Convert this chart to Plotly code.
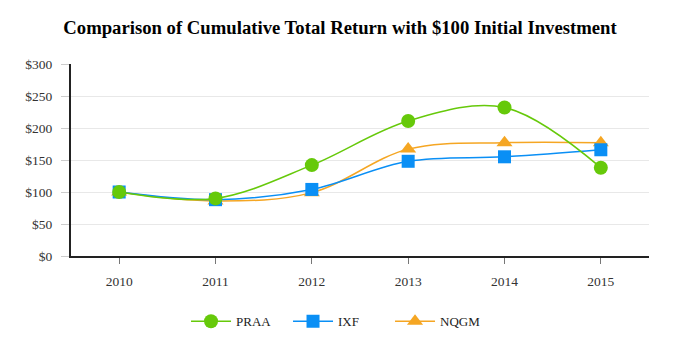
import plotly.graph_objects as go

years = ["2010", "2011", "2012", "2013", "2014", "2015"]
praa = [100, 90, 142, 211, 232, 138]
ixf = [100, 88, 104, 148, 155, 166]
nqgm = [100, 86, 99, 167, 177, 177]
yticks = [0, 50, 100, 150, 200, 250, 300]
ylabels = ["$0", "$50", "$100", "$150", "$200", "$250", "$300"]

font = "Liberation Serif, Times New Roman, serif"

fig = go.Figure()
series = [
    ("PRAA", praa, "#66C90A", "circle", 14),
    ("IXF", ixf, "#0A8FF5", "square", 13),
    ("NQGM", nqgm, "#F5A623", "triangle-up", 14),
]
for name, vals, col, sym, sz in reversed(series):
    fig.add_trace(go.Scatter(
        x=years, y=vals, name=name, mode="lines+markers",
        line=dict(color=col, width=1.5, shape="spline", smoothing=1),
        marker=dict(symbol=sym, size=sz, color=col),
    ))

fig.update_layout(
    width=682, height=357,
    margin=dict(l=63, r=41, t=56, b=109, autoexpand=False),
    paper_bgcolor="white", plot_bgcolor="white",
    font=dict(family=font, size=13, color="#333"),
    title=dict(text="<b>Comparison of Cumulative Total Return with $100 Initial Investment</b>",
               x=332 / 682, xref="container", xanchor="center", y=1 - 19 / 357, yanchor="middle",
               font=dict(family=font, size=18.7, color="black")),
    showlegend=True,
    legend=dict(orientation="h", x=0.199, xanchor="left", y=-0.34, yanchor="middle",
                traceorder="reversed", font=dict(family=font, size=13, color="#222"),
                itemwidth=40, entrywidth=47),
    xaxis=dict(type="category", range=[-0.5, 5.5], showline=True, linecolor="#222", linewidth=2,
               ticks="outside", tickcolor="#777", ticklen=6, showgrid=False, ticklabelstandoff=6,
               tickfont=dict(family=font, size=13.5, color="#333")),
    yaxis=dict(range=[0, 300], tickvals=yticks, ticktext=ylabels, showline=True, linecolor="#222",
               linewidth=2, ticks="outside", tickcolor="#ccc", ticklen=8, gridcolor="#e8e8e8",
               ticklabelstandoff=6, zeroline=False, tickfont=dict(family=font, size=13.5, color="#333")),
)

fig.write_html("out.html")
